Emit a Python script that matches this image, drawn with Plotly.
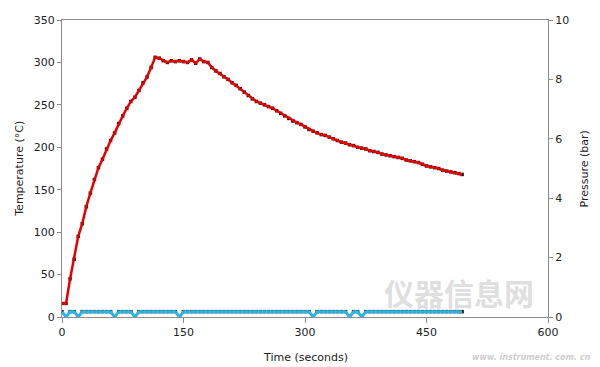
import plotly.graph_objects as go

# ---- data ----
time_s = [0, 5, 10, 15, 20, 25, 30, 35, 40, 45, 50, 55, 60, 65, 70, 75, 80, 85, 90, 95,
          100, 105, 110, 115, 120, 125, 130, 135, 140, 145, 150, 155, 160, 165, 170, 175, 180, 185, 190, 195,
          200, 205, 210, 215, 220, 225, 230, 235, 240, 245, 250, 255, 260, 265, 270, 275, 280, 285, 290, 295,
          300, 305, 310, 315, 320, 325, 330, 335, 340, 345, 350, 355, 360, 365, 370, 375, 380, 385, 390, 395,
          400, 405, 410, 415, 420, 425, 430, 435, 440, 445, 450, 455, 460, 465, 470, 475, 480, 485, 490, 494]

temperature_c = [16, 16, 45, 68, 95, 110, 130, 146, 162, 176, 186, 198, 208, 217, 228, 237, 246, 254, 259, 267,
                 276, 283, 294, 306, 305, 302, 300, 302, 301, 302, 301, 300, 303, 299, 304, 301, 300, 294, 290, 287,
                 283, 280, 276, 273, 269, 265, 261, 257, 254, 252, 250, 248, 246, 243, 240, 237, 234, 231, 229, 227,
                 224, 221, 219, 217, 215, 214, 212, 210, 208, 206, 205, 203, 202, 200, 199, 198, 196, 195, 194, 192,
                 191, 190, 189, 188, 187, 185, 184, 183, 182, 180, 178, 177, 176, 175, 173, 172, 171, 170, 169, 168]

pressure_bar = [0.18, 0.0, 0.18, 0.18, 0.0, 0.18, 0.18, 0.18, 0.18, 0.18, 0.18, 0.18, 0.18, 0.0, 0.18, 0.18, 0.18, 0.18, 0.0, 0.18,
                0.18, 0.18, 0.18, 0.18, 0.18, 0.18, 0.18, 0.18, 0.18, 0.0, 0.18, 0.18, 0.18, 0.18, 0.18, 0.18, 0.18, 0.18, 0.18, 0.18,
                0.18, 0.18, 0.18, 0.18, 0.18, 0.18, 0.18, 0.18, 0.18, 0.18, 0.18, 0.18, 0.18, 0.18, 0.18, 0.18, 0.18, 0.18, 0.18, 0.18,
                0.18, 0.18, 0.0, 0.18, 0.18, 0.18, 0.18, 0.18, 0.18, 0.18, 0.18, 0.0, 0.18, 0.18, 0.0, 0.18, 0.18, 0.18, 0.18, 0.18,
                0.18, 0.18, 0.18, 0.18, 0.18, 0.18, 0.18, 0.18, 0.18, 0.18, 0.18, 0.18, 0.18, 0.18, 0.18, 0.18, 0.18, 0.18, 0.18, 0.18]

x_ticks = [0, 150, 300, 450, 600]
y_ticks_left = [0, 50, 100, 150, 200, 250, 300, 350]
y_ticks_right = [0, 2, 4, 6, 8, 10]

FONT = "DejaVu Sans"
AXIS_COLOR = "#8c8c8c"
TEXT_COLOR = "#222222"

fig = go.Figure()

# pressure: black sample markers under a cyan line
fig.add_trace(go.Scatter(
    x=time_s, y=pressure_bar, yaxis="y2", mode="markers",
    marker=dict(color="#1a1a1a", size=3.5, symbol="square"),
    showlegend=False, hoverinfo="skip"))
fig.add_trace(go.Scatter(
    x=time_s, y=pressure_bar, yaxis="y2", mode="lines",
    line=dict(color="#2bb5e3", width=3),
    showlegend=False, hoverinfo="skip"))

# temperature: black sample markers under a red line
fig.add_trace(go.Scatter(
    x=time_s, y=temperature_c, mode="markers",
    marker=dict(color="#1a1a1a", size=3.5, symbol="square"),
    showlegend=False, hoverinfo="skip"))
fig.add_trace(go.Scatter(
    x=time_s, y=temperature_c, mode="lines",
    line=dict(color="#e80000", width=2.5),
    showlegend=False, hoverinfo="skip"))

# the page body adds an 8px offset, so the figure is sized to fit 600x367 with it
fig.update_layout(
    width=592, height=359,
    margin=dict(l=54, r=52, t=12, b=50, autoexpand=False),
    paper_bgcolor="white", plot_bgcolor="white",
    font=dict(family=FONT, size=11, color=TEXT_COLOR),
    xaxis=dict(range=[0, 600], tickvals=x_ticks, showgrid=False, zeroline=False,
               showline=True, linecolor=AXIS_COLOR, linewidth=1, mirror=True,
               ticks="outside", ticklen=5, tickcolor=AXIS_COLOR, automargin=False),
    yaxis=dict(range=[0, 350], tickvals=y_ticks_left, showgrid=False, zeroline=False,
               showline=True, linecolor=AXIS_COLOR, linewidth=1,
               ticks="outside", ticklen=4, tickcolor=AXIS_COLOR, automargin=False),
    yaxis2=dict(range=[0, 10], tickvals=y_ticks_right, overlaying="y", side="right",
                showgrid=False, zeroline=False,
                showline=True, linecolor=AXIS_COLOR, linewidth=1,
                ticks="outside", ticklen=4, tickcolor=AXIS_COLOR, automargin=False),
)

# axis titles placed where the reference has them
fig.add_annotation(text="Time (seconds)", xref="paper", yref="paper", x=0.5, y=-0.138,
                   xanchor="center", yanchor="middle", showarrow=False, font=dict(size=11))
fig.add_annotation(text="Temperature (°C)", xref="paper", yref="paper", x=-0.088, y=0.5,
                   xanchor="center", yanchor="middle", textangle=-90, showarrow=False, font=dict(size=11))
fig.add_annotation(text="Pressure (bar)", xref="paper", yref="paper", x=1.076, y=0.5,
                   xanchor="center", yanchor="middle", textangle=-90, showarrow=False, font=dict(size=11))

# faint watermark
fig.add_annotation(text="<b>仪器信息网</b>", xref="paper", yref="paper",
                   x=0.975, y=0.085, xanchor="right", yanchor="middle", showarrow=False,
                   font=dict(family="Noto Sans CJK SC", size=30, color="rgba(170,170,170,0.40)"))
fig.add_annotation(text="<i><b>www. instrument. com. cn</b></i>", xref="paper", yref="paper",
                   x=1.09, y=-0.135, xanchor="right", yanchor="middle", showarrow=False,
                   font=dict(family=FONT, size=8, color="rgba(170,170,170,0.6)"))

fig.write_html("out.html")
